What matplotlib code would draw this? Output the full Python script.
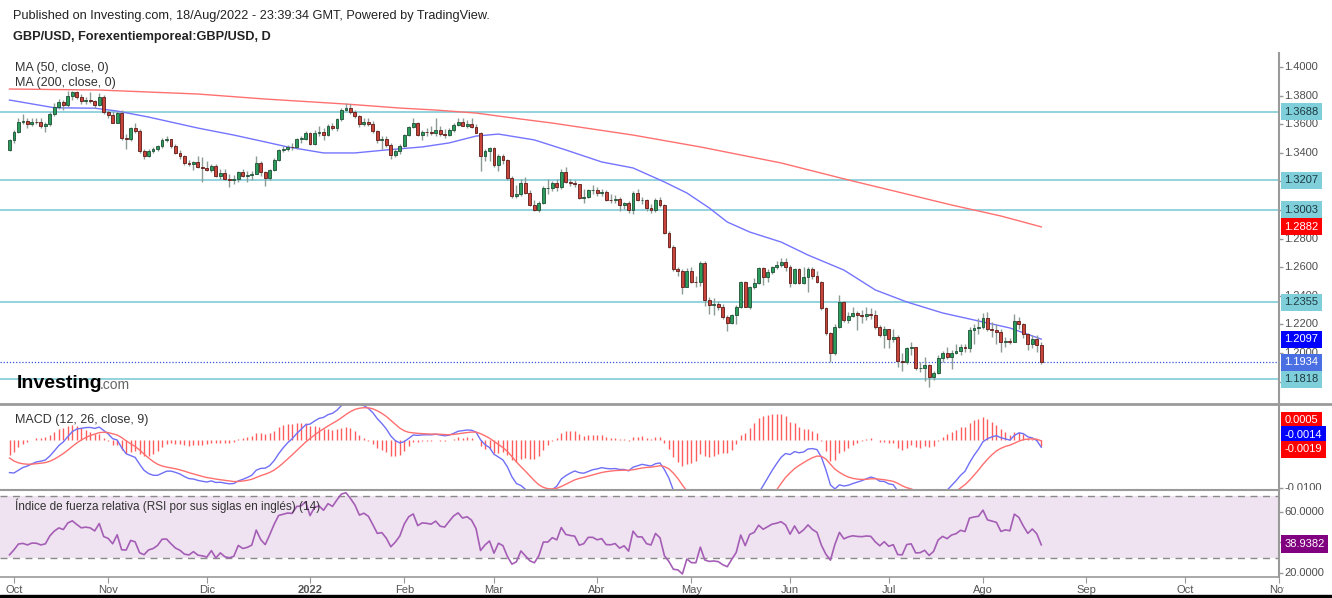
import numpy as np
import pandas as pd
import matplotlib
matplotlib.use("Agg")
import matplotlib.pyplot as plt
from matplotlib.lines import Line2D
from matplotlib.patches import Rectangle
from matplotlib.transforms import offset_copy

plt.rcParams['font.family'] = ['Liberation Sans', 'DejaVu Sans']

# ---------------- data (GBP/USD daily, 30 Sep 2021 - 18 Aug 2022) ----------------
first_open = 1.3420
closes = [
    1.3490, 1.3548, 1.3618, 1.3625, 1.3598, 1.3618, 1.3615, 1.3590, 1.3600, 1.3673,
    1.3720, 1.3752, 1.3735, 1.3800, 1.3822, 1.3790, 1.3760, 1.3766, 1.3760, 1.3736,
    1.3792, 1.3682, 1.3664, 1.3610, 1.3675, 1.3501, 1.3497, 1.3571, 1.3555, 1.3410,
    1.3380, 1.3415, 1.3425, 1.3447, 1.3492, 1.3494, 1.3446, 1.3400, 1.3375, 1.3330,
    1.3320, 1.3338, 1.3300, 1.3292, 1.3280, 1.3310, 1.3235, 1.3260, 1.3220, 1.3208,
    1.3215, 1.3265, 1.3240, 1.3245, 1.3255, 1.3330, 1.3265, 1.3225, 1.3280, 1.3350,
    1.3420, 1.3430, 1.3440, 1.3438, 1.3494, 1.3500, 1.3535, 1.3465, 1.3535, 1.3548,
    1.3525, 1.3584, 1.3570, 1.3633, 1.3699, 1.3715, 1.3688, 1.3655, 1.3600, 1.3615,
    1.3598, 1.3549, 1.3490, 1.3495, 1.3455, 1.3385, 1.3410, 1.3445, 1.3524, 1.3582,
    1.3605, 1.3527, 1.3548, 1.3545, 1.3540, 1.3560, 1.3530, 1.3525, 1.3559, 1.3594,
    1.3615, 1.3590, 1.3598, 1.3582, 1.3540, 1.3380, 1.3410, 1.3432, 1.3315, 1.3375,
    1.3350, 1.3222, 1.3100, 1.3115, 1.3187, 1.3117, 1.3035, 1.3000, 1.3047, 1.3152,
    1.3152, 1.3187, 1.3164, 1.3268, 1.3198, 1.3187, 1.3180, 1.3082, 1.3093, 1.3140,
    1.3140, 1.3117, 1.3125, 1.3070, 1.3068, 1.3075, 1.3035, 1.3047, 1.3000, 1.3117,
    1.3070, 1.3070, 1.3012, 1.3000, 1.3070, 1.3035, 1.2837, 1.2744, 1.2585, 1.2570,
    1.2464, 1.2576, 1.2499, 1.2497, 1.2627, 1.2371, 1.2336, 1.2340, 1.2325, 1.2255,
    1.2208, 1.2266, 1.2325, 1.2499, 1.2325, 1.2464, 1.2492, 1.2592, 1.2534, 1.2569,
    1.2604, 1.2616, 1.2635, 1.2600, 1.2490, 1.2585, 1.2490, 1.2530, 1.2590, 1.2535,
    1.2500, 1.2313, 1.2138, 1.1998, 1.2184, 1.2359, 1.2231, 1.2262, 1.2277, 1.2266,
    1.2262, 1.2270, 1.2265, 1.2185, 1.2125, 1.2165, 1.2095, 1.2110, 1.1945, 1.1940,
    1.2033, 1.2040, 1.1893, 1.1895, 1.1915, 1.1830, 1.1863, 1.1963, 1.1998, 1.1970,
    1.2003, 1.2015, 1.2045, 1.2033, 1.2161, 1.2173, 1.2180, 1.2245, 1.2170, 1.2160,
    1.2150, 1.2075, 1.2087, 1.2080, 1.2225, 1.2200, 1.2130, 1.2063, 1.2100, 1.2055,
    1.1934,
]
highs = [
    1.3498, 1.3560, 1.3640, 1.3674, 1.3640, 1.3640, 1.3645, 1.3640, 1.3615, 1.3685,
    1.3745, 1.3775, 1.3770, 1.3830, 1.3834, 1.3835, 1.3812, 1.3790, 1.3825, 1.3772,
    1.3818, 1.3805, 1.3700, 1.3690, 1.3695, 1.3697, 1.3530, 1.3580, 1.3610, 1.3568,
    1.3425, 1.3430, 1.3440, 1.3455, 1.3505, 1.3515, 1.3500, 1.3460, 1.3420, 1.3385,
    1.3350, 1.3345, 1.3375, 1.3370, 1.3340, 1.3320, 1.3320, 1.3285, 1.3290, 1.3255,
    1.3245, 1.3275, 1.3290, 1.3270, 1.3270, 1.3375, 1.3345, 1.3270, 1.3290, 1.3365,
    1.3430, 1.3445, 1.3455, 1.3470, 1.3505, 1.3520, 1.3550, 1.3545, 1.3560, 1.3585,
    1.3575, 1.3600, 1.3610, 1.3640, 1.3710, 1.3750, 1.3740, 1.3700, 1.3665, 1.3640,
    1.3645, 1.3620, 1.3560, 1.3520, 1.3515, 1.3470, 1.3430, 1.3460, 1.3530, 1.3590,
    1.3640, 1.3615, 1.3560, 1.3575, 1.3590, 1.3640, 1.3590, 1.3565, 1.3575, 1.3605,
    1.3645, 1.3640, 1.3630, 1.3640, 1.3600, 1.3545, 1.3425, 1.3440, 1.3440, 1.3390,
    1.3395, 1.3360, 1.3235, 1.3175, 1.3215, 1.3230, 1.3140, 1.3070, 1.3065, 1.3170,
    1.3215, 1.3200, 1.3215, 1.3285, 1.3300, 1.3220, 1.3210, 1.3185, 1.3145, 1.3150,
    1.3175, 1.3160, 1.3145, 1.3140, 1.3110, 1.3105, 1.3090, 1.3055, 1.3060, 1.3135,
    1.3150, 1.3090, 1.3075, 1.3040, 1.3085, 1.3090, 1.3045, 1.2850, 1.2755, 1.2600,
    1.2590, 1.2595, 1.2600, 1.2540, 1.2640, 1.2640, 1.2395, 1.2385, 1.2365, 1.2340,
    1.2265, 1.2275, 1.2335, 1.2505, 1.2505, 1.2470, 1.2525, 1.2600, 1.2600, 1.2590,
    1.2610, 1.2640, 1.2665, 1.2665, 1.2615, 1.2595, 1.2595, 1.2600, 1.2600, 1.2600,
    1.2575, 1.2505, 1.2325, 1.2150, 1.2205, 1.2406, 1.2365, 1.2290, 1.2325, 1.2295,
    1.2300, 1.2325, 1.2315, 1.2300, 1.2195, 1.2190, 1.2170, 1.2165, 1.2125, 1.2000,
    1.2045, 1.2075, 1.2045, 1.1935, 1.1970, 1.1925, 1.1875, 1.1985, 1.2015, 1.2045,
    1.2020, 1.2065, 1.2060, 1.2065, 1.2180, 1.2200, 1.2245, 1.2280, 1.2290, 1.2215,
    1.2205, 1.2165, 1.2115, 1.2105, 1.2275, 1.2250, 1.2210, 1.2140, 1.2125, 1.2125,
    1.2075,
]
lows = [
    1.3412, 1.3470, 1.3535, 1.3600, 1.3570, 1.3585, 1.3600, 1.3570, 1.3545, 1.3590,
    1.3660, 1.3705, 1.3700, 1.3722, 1.3770, 1.3775, 1.3742, 1.3740, 1.3745, 1.3715,
    1.3726, 1.3672, 1.3640, 1.3605, 1.3605, 1.3490, 1.3425, 1.3480, 1.3540, 1.3400,
    1.3355, 1.3372, 1.3402, 1.3410, 1.3435, 1.3475, 1.3437, 1.3390, 1.3360, 1.3315,
    1.3305, 1.3280, 1.3295, 1.3195, 1.3270, 1.3265, 1.3230, 1.3220, 1.3210, 1.3160,
    1.3185, 1.3198, 1.3230, 1.3195, 1.3210, 1.3250, 1.3240, 1.3170, 1.3210, 1.3270,
    1.3340, 1.3405, 1.3415, 1.3420, 1.3430, 1.3470, 1.3490, 1.3455, 1.3455, 1.3520,
    1.3490, 1.3515, 1.3560, 1.3555, 1.3625, 1.3690, 1.3670, 1.3645, 1.3580, 1.3590,
    1.3590, 1.3540, 1.3470, 1.3425, 1.3440, 1.3360, 1.3370, 1.3395, 1.3440, 1.3515,
    1.3570, 1.3520, 1.3490, 1.3515, 1.3525, 1.3520, 1.3515, 1.3505, 1.3515, 1.3545,
    1.3590, 1.3585, 1.3575, 1.3570, 1.3535, 1.3272, 1.3340, 1.3345, 1.3300, 1.3270,
    1.3320, 1.3210, 1.3085, 1.3085, 1.3100, 1.3110, 1.3025, 1.2995, 1.2985, 1.3040,
    1.3115, 1.3130, 1.3130, 1.3150, 1.3190, 1.3170, 1.3160, 1.3075, 1.3050, 1.3085,
    1.3110, 1.3100, 1.3100, 1.3065, 1.3050, 1.3050, 1.2990, 1.3010, 1.2980, 1.2975,
    1.3060, 1.3040, 1.2990, 1.2980, 1.2985, 1.3020, 1.2830, 1.2735, 1.2575, 1.2540,
    1.2410, 1.2460, 1.2490, 1.2460, 1.2470, 1.2330, 1.2275, 1.2265, 1.2300, 1.2240,
    1.2155, 1.2200, 1.2200, 1.2315, 1.2320, 1.2310, 1.2450, 1.2480, 1.2475, 1.2500,
    1.2550, 1.2590, 1.2600, 1.2575, 1.2460, 1.2480, 1.2480, 1.2485, 1.2425, 1.2515,
    1.2490, 1.2300, 1.2125, 1.1934, 1.1985, 1.2175, 1.2215, 1.2210, 1.2250, 1.2160,
    1.2210, 1.2230, 1.2240, 1.2165, 1.2110, 1.2035, 1.2035, 1.2075, 1.1900, 1.1875,
    1.1920, 1.1985, 1.1880, 1.1865, 1.1805, 1.1760, 1.1810, 1.1855, 1.1935, 1.1955,
    1.1890, 1.1990, 1.1985, 1.2010, 1.2010, 1.2065, 1.2130, 1.2165, 1.2155, 1.2110,
    1.2060, 1.2005, 1.2045, 1.2060, 1.2075, 1.2170, 1.2105, 1.2020, 1.2035, 1.2010,
    1.1925,
]

# moving averages (bar index, value)
ma50_bar = [0, 10, 19, 24, 31, 36, 42, 50, 57, 62, 70, 77, 84, 92, 98, 104, 109, 117,
            124, 132, 139, 146, 151, 156, 160, 165, 172, 178, 186, 193, 200, 208, 215, 223, 230]
ma50_val = [1.3769, 1.3715, 1.3712, 1.3692, 1.3650, 1.3615, 1.3573, 1.3524, 1.3476, 1.3441,
            1.3399, 1.3399, 1.3420, 1.3441, 1.3469, 1.3517, 1.3531, 1.3490, 1.3420, 1.3336,
            1.3294, 1.3196, 1.3119, 1.3014, 1.2916, 1.2846, 1.2776, 1.2685, 1.2580, 1.2441,
            1.2357, 1.2280, 1.2231, 1.2175, 1.2097]
ma200_bar = [0, 20, 42, 57, 75, 87, 95, 104, 114, 121, 139, 154, 172, 187, 199, 210, 221, 230]
ma200_val = [1.3846, 1.3839, 1.3811, 1.3776, 1.3741, 1.3713, 1.3699, 1.3678, 1.3636, 1.3608,
             1.3524, 1.3441, 1.3329, 1.3210, 1.3119, 1.3035, 1.2958, 1.2882]

levels = [1.3688, 1.3207, 1.3003, 1.2355, 1.1818]
price_ticks = [1.40, 1.38, 1.36, 1.34, 1.32, 1.30, 1.28, 1.26, 1.24, 1.22, 1.20, 1.18]
macd_seed = (1.3645, 1.3705, -0.0030)   # ema12, ema26, signal on 29 Sep 2021
rsi_seed = (0.0025, 0.0065)             # avg gain, avg loss on 29 Sep 2021
macd_labels = ['0.0005', '-0.0014', '-0.0019']   # histogram, MACD, signal
rsi_last = 38.9382
month_names = ['Ene', 'Feb', 'Mar', 'Abr', 'May', 'Jun', 'Jul', 'Ago', 'Sep', 'Oct', 'Nov', 'Dic']

# ---------------- layout (pixels) ----------------
W, H = 1332, 598
bar_px = 4.486
bar0_px = 9.5
scale_px = 1279

def fx(px):
    return px / W

def fy(py):
    return 1 - py / H

xmin = -bar0_px / bar_px
xmax = (W - bar0_px) / bar_px
x_scale = (scale_px - bar0_px) / bar_px

fig = plt.figure(figsize=(W / 100, H / 100), dpi=100)
fig.patch.set_facecolor('white')

def pane(top, bot, ylim):
    ax = fig.add_axes([0, fy(bot), 1, (bot - top) / H])
    ax.set_xlim(xmin, xmax)
    ax.set_ylim(*ylim)
    for s in ax.spines.values():
        s.set_visible(False)
    ax.set_xticks([])
    ax.set_yticks([])
    return ax

ax = pane(53, 404, (1.4 - (404 - 67) / 1430, 1.4 + (67 - 53) / 1430))
axm = pane(404, 490, ((440 - 490) / 4800, (440 - 404) / 4800))
axr = pane(490, 577, (60 - (577 - 511.7) / 1.5325, 60 + (511.7 - 490) / 1.5325))

c = np.array(closes)
hi = np.array(highs)
lo = np.array(lows)
o = np.r_[first_open, c[:-1]]
x = np.arange(len(c))
up = c >= o

# ---------------- main pane ----------------
ax.hlines(levels, xmin, x_scale, colors='#93d3de', lw=1.4, zorder=1)
ax.hlines(c[-1], xmin, x_scale, colors='#3355dd', lw=0.9, linestyles=(0, (1, 1.5)), zorder=2)
ax.plot(ma200_bar, ma200_val, color='#ff7070', lw=1, zorder=2)
ax.plot(ma50_bar, ma50_val, color='#7474ff', lw=1, zorder=2)
ax.vlines(x, lo, hi, color='#8c9c94', lw=1, zorder=3)
ax.bar(x[up], (c - o)[up], bottom=o[up], width=0.64, color='#2a9d5c',
       edgecolor='#1f4f35', lw=0.6, zorder=4)
ax.bar(x[~up], (c - o)[~up], bottom=o[~up], width=0.64, color='#c9443a',
       edgecolor='#5e1a16', lw=0.6, zorder=4)

def scale_text(a, y, s, fc=None, tc='#4d4d4d', z=6, dy=0):
    tr = offset_copy(a.transData, fig=fig, x=5.5, y=dy, units='dots')
    kw = dict(transform=tr, ha='left', va='center', fontsize=8, color=tc,
              clip_on=True, zorder=z)
    if fc:
        kw['bbox'] = dict(boxstyle='square,pad=0.32', fc=fc, ec='none')
    return a.text(x_scale, y, s, **kw)

ax.hlines(price_ticks, x_scale, x_scale + 4 / bar_px, color='#999999', lw=1)
for t in price_ticks:
    scale_text(ax, t, '%.4f' % t)
for lv in levels:
    scale_text(ax, lv, '%.4f' % lv, fc='#7fcfdb', tc='#1d3a40', z=8)
scale_text(ax, ma200_val[-1], '%.4f' % ma200_val[-1], fc='#ff0000', tc='white', z=9)
scale_text(ax, ma50_val[-1], '%.4f' % ma50_val[-1], fc='#0000ff', tc='white', z=9)
scale_text(ax, c[-1], '%.4f' % c[-1], fc='#4a6fe3', tc='white', z=9)

# ---------------- MACD ----------------
e12, e26, sig = macd_seed
macd, signal = [], []
for v in c:
    e12 += (v - e12) * 2 / 13
    e26 += (v - e26) * 2 / 27
    m = e12 - e26
    sig += (m - sig) * 2 / 10
    macd.append(m)
    signal.append(sig)
macd = np.array(macd)
signal = np.array(signal)
hist = macd - signal

axm.vlines(x, 0, hist, color='#ff4a4a', lw=1, alpha=0.9, zorder=2)
axm.plot(x, macd, color='#6f6ff7', lw=1, zorder=3)
axm.plot(x, signal, color='#ff6f6f', lw=1, zorder=3)
axm.hlines([-0.01], x_scale, x_scale + 4 / bar_px, color='#999999', lw=1)
scale_text(axm, -0.01, '-0.0100')
# value boxes stacked upward from the signal value, as the price scale does
base = float(macd_labels[2])
for k, (s, col) in enumerate(zip(macd_labels, ['#ff0000', '#0000ff', '#ff0000'])):
    scale_text(axm, base, s, fc=col, tc='white', z=9, dy=(2 - k) * 14.5)

# ---------------- RSI ----------------
ag, al = rsi_seed
prev = first_open
rsi = []
for v in c:
    d = v - prev
    ag = (ag * 13 + max(d, 0)) / 14
    al = (al * 13 + max(-d, 0)) / 14
    rsi.append(100 - 100 / (1 + ag / al))
    prev = v
axr.fill_between([xmin, x_scale], 30, 70, color='#efe3f1', lw=0, zorder=0)
axr.hlines([30, 70], xmin, x_scale, colors='#8a8a8a', lw=1, linestyles=(0, (5, 4)), zorder=1)
axr.plot(x, rsi, color='#a55eb5', lw=1.2, zorder=3)
axr.hlines([60, 40, 20], x_scale, x_scale + 4 / bar_px, color='#999999', lw=1)
for t in [60, 40, 20]:
    scale_text(axr, t, '%.4f' % t)
scale_text(axr, rsi_last, '%.4f' % rsi_last, fc='#800080', tc='white', z=9)

# ---------------- time axis ----------------
dates = pd.bdate_range('2021-09-30', '2022-11-01')
month_idx = [i for i in range(1, len(dates)) if dates[i].month != dates[i - 1].month]
month_lab = [str(dates[i].year) if dates[i].month == 1 else month_names[dates[i].month - 1]
             for i in month_idx]
axr.spines['bottom'].set_visible(True)
axr.spines['bottom'].set_bounds(xmin, x_scale)
axr.spines['bottom'].set_color('#999999')
axr.spines['bottom'].set_linewidth(1.2)
axr.set_xticks(month_idx)
axr.set_xticklabels(month_lab)
axr.tick_params(axis='x', length=4, color='#999999', labelsize=8, labelcolor='#555555', pad=2)
for lbl in axr.get_xticklabels():
    if lbl.get_text().isdigit():
        lbl.set_fontweight('bold')

# separators and price-scale line
fig.add_artist(Line2D([0, 1], [fy(404), fy(404)], color='#9a9a9a', lw=2))
fig.add_artist(Line2D([0, fx(scale_px)], [fy(490), fy(490)], color='#9a9a9a', lw=1.5))
fig.add_artist(Line2D([fx(scale_px), fx(scale_px)], [fy(53), fy(577)], color='#9a9a9a', lw=1.5))
fig.add_artist(Rectangle((fx(1284), fy(595)), 1, 15 / H, color='white', zorder=20))
fig.add_artist(Rectangle((0, 0), 1, 3 / H, color='black', zorder=21))

# texts
fig.text(fx(13), fy(16), 'Published on Investing.com, 18/Aug/2022 - 23:39:34 GMT, Powered by TradingView.',
         fontsize=9.2, color='#222222', va='center')
fig.text(fx(13), fy(37), 'GBP/USD, Forexentiemporeal:GBP/USD, D', fontsize=9.2,
         fontweight='bold', color='#222222', va='center')
fig.text(fx(15), fy(68), 'MA (50, close, 0)', fontsize=9, color='#333333', va='center')
fig.text(fx(15), fy(83), 'MA (200, close, 0)', fontsize=9, color='#333333', va='center')
fig.text(fx(15), fy(420), 'MACD (12, 26, close, 9)', fontsize=9, color='#333333', va='center')
fig.text(fx(15), fy(506), 'Índice de fuerza relativa (RSI por sus siglas en inglés) (14)',
         fontsize=8.5, color='#333333', va='center')
fig.text(fx(17), fy(383), 'Investing', fontsize=14, fontweight='bold', color='black', va='center')
fig.text(fx(100), fy(385), '.com', fontsize=10, color='#666666', va='center')

fig.savefig('out.png', dpi=100)
